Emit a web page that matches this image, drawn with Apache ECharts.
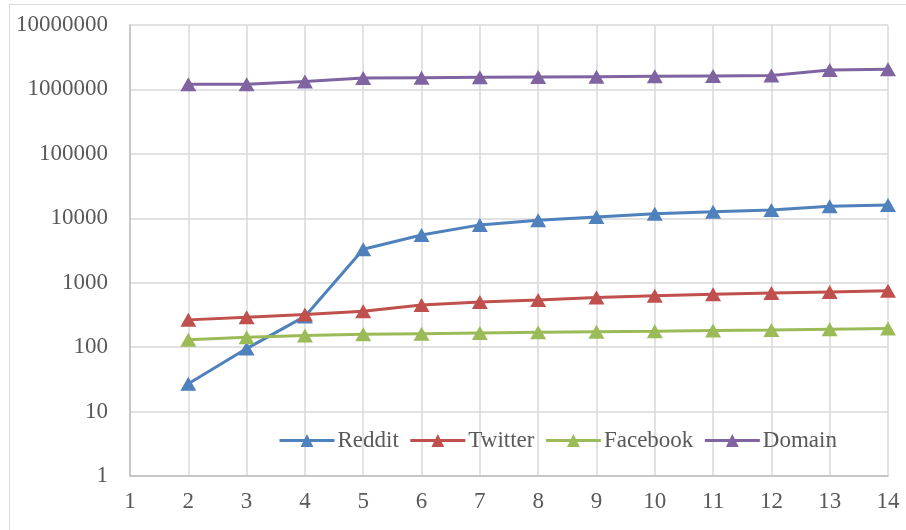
<!DOCTYPE html>
<html><head><meta charset="utf-8">
<script src="https://cdn.jsdelivr.net/npm/echarts@6/dist/echarts.min.js"></script>
<style>
html,body{margin:0;padding:0;background:#fff;}
#frame{position:absolute;left:9px;top:4px;width:910px;height:540px;border:1px solid #d9d9d9;box-sizing:border-box;}
#c{position:absolute;left:0;top:0;width:906px;height:530px;}
</style></head>
<body><div id="frame"></div><div id="c"></div>
<script>
const xValues = [2,3,4,5,6,7,8,9,10,11,12,13,14];
const reddit = [27, 95, 300, 3300, 5500, 7900, 9300, 10500, 11800, 12600, 13500, 15400, 16100];
const twitter = [265, 290, 320, 360, 450, 500, 540, 590, 630, 660, 690, 720, 750];
const facebook = [130, 142, 152, 158, 162, 166, 170, 174, 177, 182, 185, 190, 195];
const domain = [1200000, 1200000, 1330000, 1500000, 1520000, 1540000, 1560000, 1580000, 1600000, 1620000, 1640000, 2000000, 2050000];
const seriesNames = ['Reddit','Twitter','Facebook','Domain'];
const colors = ['#4F81BD','#C0504D','#9BBB59','#8064A2'];

const chart = echarts.init(document.getElementById('c'));
const font = '"Liberation Serif", "Times New Roman", serif';
function mk(name, vals, color){
  return {
    name, type:'line', data: xValues.map((x,i)=>[x, vals[i]]),
    symbol:'triangle', symbolSize:[16,14], showSymbol:true,
    lineStyle:{width:3,color}, itemStyle:{color}, color,
    emphasis:{disabled:true}, animation:false
  };
}
chart.setOption({
  animation:false,
  textStyle:{fontFamily:font},
  grid:{left:130,right:18,top:25,bottom:54},
  legend:{
    data:seriesNames, left:273, top:424, itemWidth:55, itemHeight:16, itemGap:10,
    lineStyle:{width:3},
    textStyle:{fontFamily:font,fontSize:23,color:'#595959',padding:[0,0,0,-2]}
  },
  xAxis:{
    type:'value', min:1, max:14, interval:1,
    axisLine:{show:true,lineStyle:{color:'#bfbfbf',width:1.5}},
    axisTick:{show:false},
    axisLabel:{fontFamily:font,fontSize:23,color:'#595959',margin:14},
    splitLine:{show:true,lineStyle:{color:'#d9d9d9',width:1.5}}
  },
  yAxis:{
    type:'log', logBase:10, min:1, max:10000000,
    axisLine:{show:true,lineStyle:{color:'#bfbfbf',width:1.5}},
    axisTick:{show:false},
    axisLabel:{fontFamily:font,fontSize:23,color:'#595959',margin:22,formatter:v=>String(Math.round(v))},
    splitLine:{show:true,lineStyle:{color:'#d9d9d9',width:1.5}}
  },
  series:[mk('Reddit',reddit,colors[0]),mk('Twitter',twitter,colors[1]),mk('Facebook',facebook,colors[2]),mk('Domain',domain,colors[3])]
});
</script></body></html>
